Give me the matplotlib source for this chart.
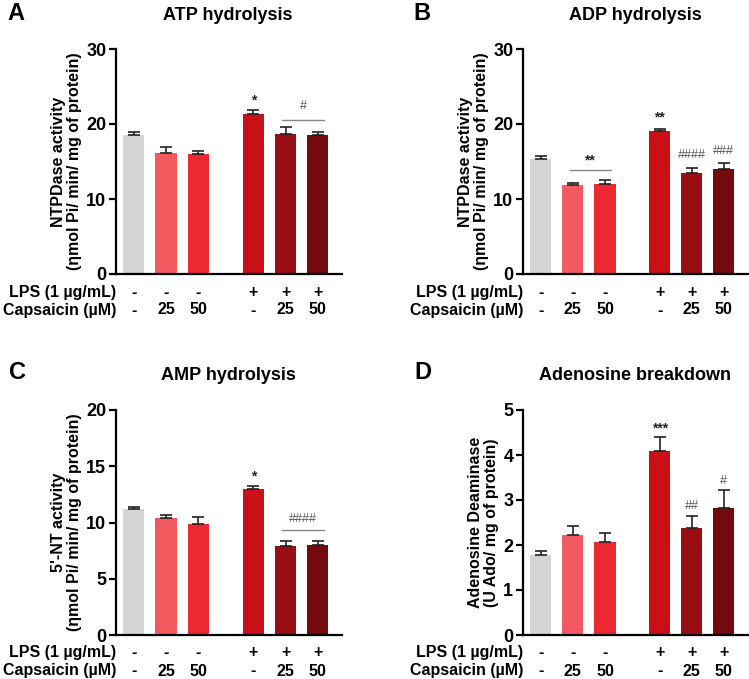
import matplotlib
matplotlib.use("Agg")
import matplotlib.pyplot as plt
from matplotlib.transforms import blended_transform_factory

plt.rcParams['font.family'] = ['Liberation Sans', 'DejaVu Sans']
plt.rcParams['font.weight'] = 'bold'

colors = ['#d4d4d4', '#f25a60', '#ec2930', '#c81016', '#990e13', '#720a0e']
lps_labels = ['-', '-', '-', '+', '+', '+']
cap_labels = ['-', '25', '50', '-', '25', '50']
positions = [0, 1, 2, 3.7, 4.7, 5.7]

atp_mean = [18.6, 16.2, 15.95, 21.4, 18.7, 18.5]
atp_err = [0.3, 0.7, 0.45, 0.5, 0.85, 0.5]
adp_mean = [15.4, 11.9, 12.0, 19.07, 13.5, 14.0]
adp_err = [0.3, 0.3, 0.6, 0.33, 0.7, 0.8]
amp_mean = [11.17, 10.4, 9.9, 12.98, 7.9, 8.0]
amp_err = [0.25, 0.27, 0.6, 0.23, 0.5, 0.32]
ada_mean = [1.78, 2.23, 2.07, 4.09, 2.37, 2.82]
ada_err = [0.08, 0.2, 0.19, 0.32, 0.27, 0.4]

W, H = 749, 679
fig = plt.figure(figsize=(W / 100, H / 100), dpi=100)


def px_axes(x0, x1, ytop, ybot):
    return fig.add_axes([x0 / W, 1 - ybot / H, (x1 - x0) / W, (ybot - ytop) / H])


panels = [
    dict(rect=(116, 342, 49, 274), mean=atp_mean, err=atp_err, ymax=30, step=10,
         title='ATP hydrolysis', letter='A', ylabel='NTPDase activity\n(\u03b7mol Pi/ min/ mg of protein)',
         title_xy=(228, 15), letter_xy=(7, 14)),
    dict(rect=(523, 748, 49, 274), mean=adp_mean, err=adp_err, ymax=30, step=10,
         title='ADP hydrolysis', letter='B', ylabel='NTPDase activity\n(\u03b7mol Pi/ min/ mg of protein)',
         title_xy=(635, 15), letter_xy=(413, 14)),
    dict(rect=(116, 342, 410, 635), mean=amp_mean, err=amp_err, ymax=20, step=5,
         title='AMP hydrolysis', letter='C', ylabel="5'-NT activity\n(\u03b7mol Pi/ min/ mg of protein)",
         title_xy=(228, 375), letter_xy=(9, 372)),
    dict(rect=(523, 748, 410, 635), mean=ada_mean, err=ada_err, ymax=5, step=1,
         title='Adenosine breakdown', letter='D', ylabel='Adenosine Deaminase\n(U Ado/ mg of protein)',
         title_xy=(635, 375), letter_xy=(414, 372)),
]

axes = []
for p in panels:
    ax = px_axes(*p['rect'])
    axes.append(ax)
    ax.bar(positions, p['mean'], width=0.66, color=colors, zorder=2)
    ax.errorbar(positions, p['mean'], yerr=[[0] * 6, p['err']], fmt='none',
                ecolor='#222222', elinewidth=1.2, capsize=4.5, capthick=1.2, zorder=3)
    ax.set_xlim(-0.55, 6.45)
    ax.set_ylim(0, p['ymax'])
    ax.set_yticks(range(0, p['ymax'] + 1, p['step']))
    ax.tick_params(axis='y', labelsize=13, width=1.6, length=5, pad=2)
    for lab in ax.get_yticklabels():
        lab.set_fontweight('bold')
    ax.set_xticks([])
    for s in ['top', 'right']:
        ax.spines[s].set_visible(False)
    ax.spines['left'].set_linewidth(1.6)
    ax.spines['bottom'].set_linewidth(1.6)
    ax.set_ylabel(p['ylabel'], fontsize=11.5, fontweight='bold', labelpad=3, linespacing=1.05)
    fig.text(p['title_xy'][0] / W, 1 - p['title_xy'][1] / H, p['title'], ha='center', va='center',
             fontsize=13, fontweight='bold')
    fig.text(p['letter_xy'][0] / W, 1 - p['letter_xy'][1] / H, p['letter'], ha='left', va='center',
             fontsize=17, fontweight='bold')
    tr = blended_transform_factory(ax.transData, ax.transAxes)
    for x, l1, l2 in zip(positions, lps_labels, cap_labels):
        ax.text(x, -0.08, l1, transform=tr, ha='center', va='center', fontsize=11.5, fontweight='bold')
        ax.text(x, -0.16, l2, transform=tr, ha='center', va='center', fontsize=11.5, fontweight='bold')
    ax.text(0.0, -0.08, 'LPS (1 \u00b5g/mL)', transform=ax.transAxes, ha='right', va='center',
            fontsize=11.5, fontweight='bold')
    ax.text(0.0, -0.16, 'Capsaicin (\u00b5M)', transform=ax.transAxes, ha='right', va='center',
            fontsize=11.5, fontweight='bold')

ann_col = '#555555'
axA, axB, axC, axD = axes
# A
axA.text(positions[3], 23.2, '*', ha='center', va='center', fontsize=10, color='#222222')
axA.plot([positions[4] - 0.1, positions[5] + 0.2], [20.6, 20.6], color='#888888', lw=1)
axA.text((positions[4] + positions[5]) / 2 + 0.05, 22.4, '#', ha='center', va='center', fontsize=9,
         color=ann_col, fontweight='normal')
# B
axB.plot([positions[1] - 0.1, positions[2] + 0.2], [13.9, 13.9], color='#888888', lw=1)
axB.text((positions[1] + positions[2]) / 2, 15.2, '**', ha='center', va='center', fontsize=10, color='#222222')
axB.text(positions[3], 20.9, '**', ha='center', va='center', fontsize=10, color='#222222')
axB.text(positions[4], 15.9, '####', ha='center', va='center', fontsize=9, color=ann_col, fontweight='normal')
axB.text(positions[5], 16.4, '###', ha='center', va='center', fontsize=9, color=ann_col, fontweight='normal')
# C
axC.text(positions[3], 14.1, '*', ha='center', va='center', fontsize=10, color='#222222')
axC.plot([positions[4] - 0.1, positions[5] + 0.2], [9.3, 9.3], color='#888888', lw=1)
axC.text((positions[4] + positions[5]) / 2 + 0.05, 10.3, '####', ha='center', va='center', fontsize=9,
         color=ann_col, fontweight='normal')
# D
axD.text(positions[3], 4.6, '***', ha='center', va='center', fontsize=10, color='#222222')
axD.text(positions[4], 2.86, '##', ha='center', va='center', fontsize=9, color=ann_col, fontweight='normal')
axD.text(positions[5], 3.43, '#', ha='center', va='center', fontsize=9, color=ann_col, fontweight='normal')

fig.savefig('out.png', dpi=100, facecolor='white')
